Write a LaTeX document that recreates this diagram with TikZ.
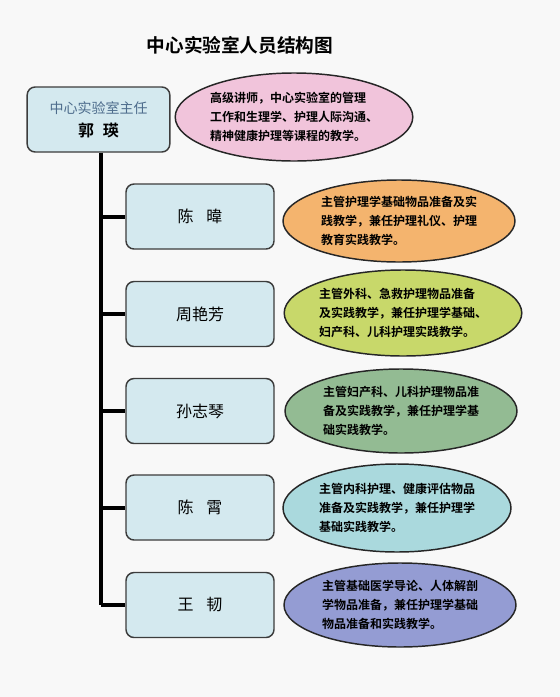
\documentclass[tikz,border=0pt]{standalone}
\usepackage{fontspec}
\newfontfamily\cjk{Noto Sans CJK SC}
\newfontfamily\cjkbold{Noto Sans CJK SC Bold}
\usepackage{xcolor}
\definecolor{labbg}{RGB}{248,248,248}
\definecolor{labbox}{RGB}{212,233,239}
\definecolor{labedge}{RGB}{60,60,60}
\definecolor{labtitle}{RGB}{77,108,140}
\definecolor{labpink}{RGB}{241,196,219}
\definecolor{laborange}{RGB}{244,180,110}
\definecolor{lablime}{RGB}{200,216,106}
\definecolor{labgreen}{RGB}{147,187,147}
\definecolor{labcyan}{RGB}{170,217,221}
\definecolor{labblue}{RGB}{148,156,211}
\usetikzlibrary{shapes.geometric}

\begin{document}
\begin{tikzpicture}[x=0.75pt, y=-0.75pt,
  staffbox/.style={draw=labedge, line width=1.1pt, fill=labbox, rounded corners=6pt,
    minimum width=111pt, minimum height=48.75pt, font=\cjk\fontsize{12}{14}\selectfont},
  duty/.style={ellipse, draw=black!85, line width=1.1pt, inner sep=0pt,
    align=left, font=\cjkbold\fontsize{9}{14}\selectfont},
  trunkline/.style={line width=3pt, black}]
  % Background
  \fill[labbg] (0,0) rectangle (560,697);
  \useasboundingbox (0,0) rectangle (560,697);

  % --- Title ---
  \node[font=\cjkbold\fontsize{14}{16}\selectfont] (title) at (240,45) {中心实验室人员结构图};

  % --- Director ---
  \node[staffbox, minimum width=107pt, align=center, font=\cjk\fontsize{10.5}{17}\selectfont]
    (dir) at (98.5,119.5) {\textcolor{labtitle}{中心实验室主任}\\{\cjkbold\fontsize{12}{17}\selectfont 郭\hspace{0.55em}瑛}};
  \node[duty, fill=labpink, minimum width=171pt, minimum height=66pt] (dirduty) at (294,117)
    {高级讲师，中心实验室的管理\\工作和生理学、护理人际沟通、\\精神健康护理等课程的教学。};

  % --- Staff boxes ---
  \node[staffbox] (w1) at (200,216.5) {陈\hspace{0.8em}暐};
  \node[staffbox] (w2) at (200,314) {周艳芳};
  \node[staffbox] (w3) at (200,411) {孙志琴};
  \node[staffbox] (w4) at (200,507.5) {陈\hspace{0.8em}霄};
  \node[staffbox] (w5) at (200,605) {王\hspace{0.8em}韧};

  % --- Duty ellipses ---
  \node[duty, fill=laborange, minimum width=174pt, minimum height=61.5pt] (d1) at (399,221)
    {主管护理学基础物品准备及实\\践教学，兼任护理礼仪、护理\\教育实践教学。};
  \node[duty, fill=lablime, minimum width=177pt, minimum height=64.5pt] (d2) at (403,313)
    {主管外科、急救护理物品准备\\及实践教学，兼任护理学基础、\\妇产科、儿科护理实践教学。};
  \node[duty, fill=labgreen, minimum width=174pt, minimum height=63pt] (d3) at (401,411)
    {主管妇产科、儿科护理物品准\\备及实践教学，兼任护理学基\\础实践教学。};
  \node[duty, fill=labcyan, minimum width=171pt, minimum height=66pt] (d4) at (397,508)
    {主管内科护理、健康评估物品\\准备及实践教学，兼任护理学\\基础实践教学。};
  \node[duty, fill=labblue, minimum width=174pt, minimum height=63pt] (d5) at (400,605)
    {主管基础医学导论、人体解剖\\学物品准备，兼任护理学基础\\物品准备和实践教学。};

  % --- Connectors ---
  \coordinate (trunk) at (101,605);
  \draw[trunkline] (dir.south -| trunk) -- (trunk);
  \foreach \i in {1,...,5}
    \draw[trunkline] (w\i.west -| trunk) -- (w\i.west);
\end{tikzpicture}
\end{document}
